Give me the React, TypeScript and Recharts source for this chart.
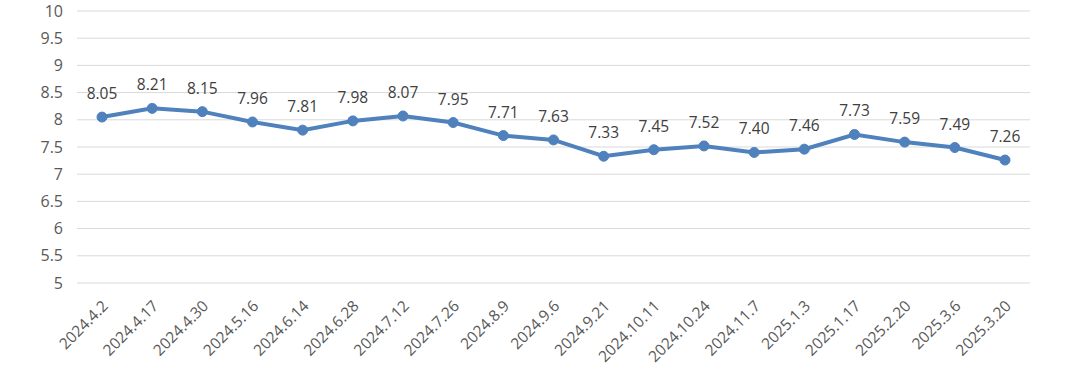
import { LineChart, Line, XAxis, YAxis, CartesianGrid, LabelList } from "recharts";

const dates = [
    "2024.4.2", "2024.4.17", "2024.4.30", "2024.5.16", "2024.6.14", "2024.6.28",
    "2024.7.12", "2024.7.26", "2024.8.9", "2024.9.6", "2024.9.21", "2024.10.11",
    "2024.10.24", "2024.11.7", "2025.1.3", "2025.1.17", "2025.2.20", "2025.3.6", "2025.3.20",
];
const values = [
    8.05, 8.21, 8.15, 7.96, 7.81, 7.98, 8.07, 7.95, 7.71, 7.63,
    7.33, 7.45, 7.52, 7.4, 7.46, 7.73, 7.59, 7.49, 7.26,
];
const yTicks = [5, 5.5, 6, 6.5, 7, 7.5, 8, 8.5, 9, 9.5, 10];

const data = dates.map((d, i) => ({ date: d, value: values[i] }));

const FONT = "'Open Sans', sans-serif";

function DateTick(props: any) {
    const { x, y, payload } = props;
    return (
        <g transform={`translate(${x + 7},${y + 16})`}>
            <text
                textAnchor="end"
                transform="rotate(-45)"
                fontSize={15.5}
                fill="#595959"
                fontFamily={FONT}
            >
                {payload.value}
            </text>
        </g>
    );
}

export default function App() {
    return (
        <div style={{ position: "absolute", left: 0, top: 0, background: "#fff" }}>
            <LineChart
                width={1080}
                height={370}
                data={data}
                margin={{ top: 11, right: 50, bottom: 0, left: 0 }}
            >
                <CartesianGrid vertical={false} stroke="#d9d9d9" strokeWidth={1} />
                <XAxis
                    dataKey="date"
                    height={87}
                    axisLine={false}
                    tickLine={false}
                    interval={0}
                    padding={{ left: 25, right: 25 }}
                    tick={<DateTick />}
                />
                <YAxis
                    width={77}
                    domain={[5, 10]}
                    ticks={yTicks}
                    axisLine={false}
                    tickLine={false}
                    tickMargin={8}
                    tick={{ fontSize: 16, fill: "#595959", fontFamily: FONT }}
                />
                <Line
                    type="linear"
                    dataKey="value"
                    stroke="#4f81bd"
                    strokeWidth={4}
                    dot={{ r: 5, fill: "#4f81bd", stroke: "#4f81bd", strokeWidth: 1 }}
                    isAnimationActive={false}
                >
                    <LabelList
                        dataKey="value"
                        position="top"
                        offset={18}
                        formatter={(v: any) => Number(v).toFixed(2)}
                        style={{ fontSize: 15.5, fill: "#404040", fontFamily: FONT }}
                    />
                </Line>
            </LineChart>
        </div>
    );
}
